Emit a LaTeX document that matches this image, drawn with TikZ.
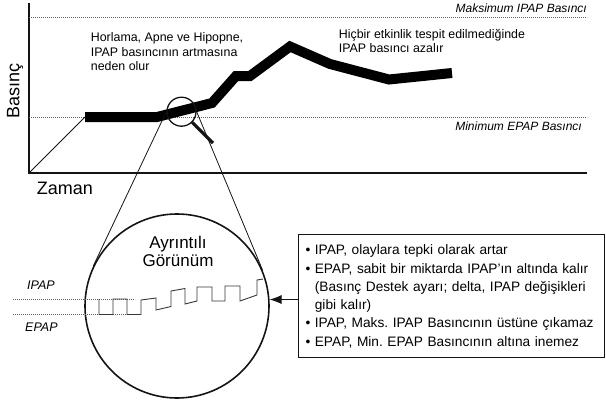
\documentclass[tikz,border=0pt]{standalone}
\usepackage{fontspec}
\setmainfont{Liberation Sans}
\usetikzlibrary{arrows.meta,calc}
\frenchspacing
\definecolor{ink}{RGB}{20,20,20}
\definecolor{dotgray}{RGB}{95,95,95}
\tikzset{
  axis/.style={draw=ink,line width=1.4pt},
  guide/.style={draw=dotgray,line width=0.8pt,dash pattern=on 0.8pt off 1.2pt},
  trend/.style={draw=black,line width=10pt},
  link/.style={draw=ink,line width=0.8pt},
  wave/.style={draw=ink!85,line width=0.9pt},
  lensc/.style={circle,draw=ink,line width=1.3pt,minimum size=29pt,inner sep=0pt},
  zoomc/.style={circle,draw=ink,line width=1.6pt,minimum size=184pt,inner sep=0pt},
  arr/.style={-{Latex[length=12pt,width=9pt]},line width=0.8pt,draw=ink},
  txt/.style={font=\fontsize{12.4}{14.5}\selectfont,align=left,inner sep=0pt,anchor=north west},
  lim/.style={font=\fontsize{12}{14}\selectfont\itshape,inner sep=0pt},
  big/.style={font=\fontsize{18}{20}\selectfont,inner sep=0pt},
  note/.style={draw=ink,line width=1pt,align=left,text width=292pt,inner xsep=7pt,
    inner ysep=10pt,font=\fontsize{13.7}{18.3}\selectfont},
}

\begin{document}
\begin{tikzpicture}[x=1pt,y=-1pt]
\useasboundingbox (0,0) rectangle (606,402);
% axes and limit lines
\coordinate (origin) at (29,173);
\coordinate (ytop) at (29,3);
\coordinate (xend) at (587,173);
\draw[axis] (ytop) -- (origin) -- (xend);
\draw[guide] (29,17) -- (587,17);
\draw[guide] (29,117) -- (587,117);
\node[lim,anchor=base east] (maxlbl) at (587,12.3) {Maksimum IPAP Basıncı};
\node[lim,anchor=base east] (minlbl) at (582,130) {Minimum EPAP Basıncı};
\node[big,rotate=90,anchor=base] (ylbl) at (19.5,91) {Basınç};
\node[big,anchor=base west] (xlbl) at (36.7,194.3) {Zaman};
% pressure trend
\coordinate (trendstart) at (85,117);
\draw[link] (origin) -- (trendstart);
\draw[trend] (trendstart) -- (157,117) -- (212,103) -- (236,76) -- (250,76)
  -- (290,46.5) -- (330,64) -- (389,79.5) -- (452,73);
\node[txt] (events) at (90.7,32.8) {Horlama, Apne ve Hipopne,\\IPAP basıncının artmasına\\neden olur};
\node[txt] (idle) at (338.7,28.8) {Hiçbir etkinlik tespit edilmediğinde\\IPAP basıncı azalır};
% magnifier
\node[lensc] (lens) at (181.5,111.7) {};
\coordinate (grip) at (213,143);
\draw[draw=ink,line width=3.2pt] (lens.-45) -- (grip);
% detail view
\node[zoomc] (detail) at (177,306) {};
\draw[link] (lens.west) -- (tangent cs:node=detail,point={(lens.west)},solution=1);
\draw[link] (lens.east) -- (tangent cs:node=detail,point={(lens.east)},solution=2);
\node[font=\fontsize{17}{18.5}\selectfont,align=center,inner sep=0pt,anchor=north]
  (dtitle) at (178,235.5) {Ayrıntılı\\Görünüm};
\draw[guide] (13,299) -- (135,299);
\draw[guide] (13,314.5) -- (135,314.5);
\node[lim,font=\fontsize{12.5}{14}\selectfont\itshape,anchor=base west] (ipap) at (27,289) {IPAP};
\node[lim,font=\fontsize{12.5}{14}\selectfont\itshape,anchor=base west] (epap) at (25,331) {EPAP};
\draw[wave] (99,299) -- (99,314.5) -- (113,314.5) -- (113,299) -- (127,299) -- (127,314.5)
  -- (141,314.5) -- (141,300) -- (156,298) -- (156,310) -- (171,306.5) -- (171,291)
  -- (185,288.5) -- (185,304) -- (197,301) -- (197,287) -- (212,287) -- (212,301)
  -- (225,301) -- (225,286) -- (240,286) -- (240,301) -- (257,295) -- (257,280) -- (263,279);
% notes
\node[note,anchor=north west] (notes) at (298,234.3) {%
  \textbullet\ IPAP, olaylara tepki olarak artar\\
  \textbullet\ EPAP, sabit bir miktarda IPAP’ın altında kalır\\
  \phantom{\textbullet}\ (Basınç Destek ayarı; delta, IPAP değişikleri\\
  \phantom{\textbullet}\ gibi kalır)\\
  \textbullet\ IPAP, Maks. IPAP Basıncının üstüne çıkamaz\\
  \textbullet\ EPAP, Min. EPAP Basıncının altına inemez};
\draw[arr] (notes.west |- detail.4) -- (detail.4);
\end{tikzpicture}
\end{document}
